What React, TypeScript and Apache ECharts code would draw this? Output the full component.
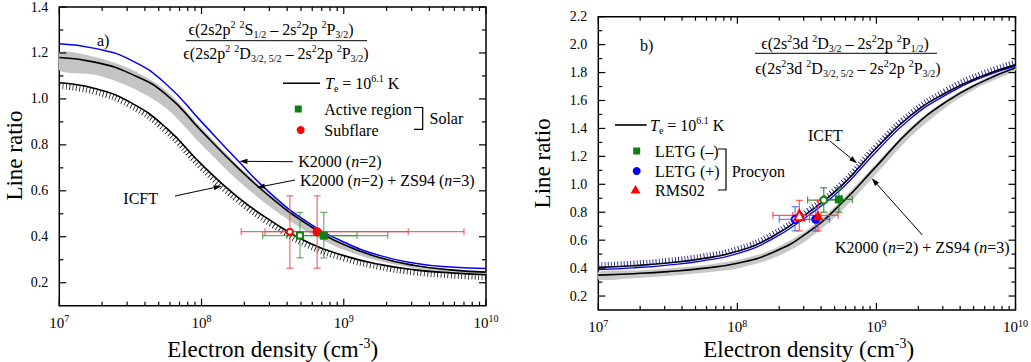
import React, { useEffect, useRef } from "react";
import * as echarts from "echarts";

const SERIF = "'Liberation Serif', 'Times New Roman', 'DejaVu Serif', serif";

// ---------------- data ----------------
// electron density sample points (cm^-3), quarter-decade steps
const density = [1e7, 1.778e7, 3.162e7, 5.623e7, 1e8, 1.778e8, 3.162e8, 5.623e8, 1e9, 1.778e9, 3.162e9, 5.623e9, 1e10];

// panel a) curves
const aK2000 = [1.24, 1.22, 1.17, 1.065, 0.9, 0.735, 0.58, 0.462, 0.377, 0.319, 0.285, 0.268, 0.262];
const aK2000ZS94 = [1.18, 1.16, 1.11, 1.02, 0.86, 0.703, 0.565, 0.452, 0.366, 0.31, 0.275, 0.256, 0.246];
const aBandHigh = [1.203, 1.182, 1.13, 1.037, 0.874, 0.714, 0.573, 0.457, 0.37, 0.313, 0.278, 0.259, 0.249];
const aBandLow = [1.125, 1.105, 1.052, 0.96, 0.8, 0.648, 0.522, 0.42, 0.343, 0.294, 0.263, 0.247, 0.238];
const aICFT = [1.07, 1.045, 0.985, 0.875, 0.715, 0.575, 0.465, 0.375, 0.318, 0.28, 0.256, 0.243, 0.235];
const aICFTHatch = [1.056, 1.031, 0.971, 0.861, 0.701, 0.561, 0.451, 0.362, 0.306, 0.269, 0.245, 0.232, 0.224];

// panel a) observations: [density, ratio, densLow, densHigh, ratioLow, ratioHigh]
const aActiveRegion = [[7.24e8, 0.405, 3.98e8, 2.04e9, 0.308, 0.506]];
const aActiveRegionICFT = [[4.92e8, 0.405, 2.69e8, 1.24e9, 0.308, 0.506]];
const aSubflare = [[6.5e8, 0.422, 2.79e8, 7.0e9, 0.263, 0.578]];
const aSubflareICFT = [[4.18e8, 0.422, 1.9e8, 2.84e9, 0.263, 0.578]];

// panel b) curves
const bICFT = [0.405, 0.417, 0.437, 0.468, 0.52, 0.625, 0.79, 0.99, 1.26, 1.495, 1.655, 1.772, 1.855];
const bICFTHatch = [0.424, 0.436, 0.456, 0.487, 0.539, 0.644, 0.809, 1.009, 1.279, 1.514, 1.674, 1.791, 1.874];
const bK2000 = [0.39, 0.402, 0.422, 0.452, 0.503, 0.607, 0.77, 0.968, 1.235, 1.475, 1.64, 1.762, 1.847];
const bK2000ZS94 = [0.35, 0.36, 0.375, 0.398, 0.435, 0.51, 0.65, 0.865, 1.13, 1.395, 1.59, 1.73, 1.835];
const bBandHigh = [0.373, 0.383, 0.398, 0.421, 0.458, 0.533, 0.673, 0.888, 1.15, 1.412, 1.603, 1.741, 1.843];
const bBandLow = [0.318, 0.328, 0.343, 0.366, 0.398, 0.468, 0.6, 0.81, 1.075, 1.345, 1.552, 1.703, 1.815];

// panel b) observations
const bLETGminus = [[5.37e8, 0.892, 4.2e8, 6.7e8, 0.8, 0.975]];
const bLETGminusICFT = [[4.18e8, 0.887, 3.2e8, 5.5e8, 0.8, 0.975]];
const bLETGplus = [[3.66e8, 0.749, 2.7e8, 4.6e8, 0.666, 0.833]];
const bLETGplusICFT = [[2.6e8, 0.749, 2.0e8, 3.3e8, 0.667, 0.84]];
const bRMS02 = [[3.8e8, 0.778, 2.5e8, 5.3e8, 0.666, 0.885]];
const bRMS02ICFT = [[2.79e8, 0.778, 1.8e8, 4.0e8, 0.666, 0.885]];

// axes
const xMin = 1e7;
const xMax = 1e10;
const xMajorTicks = [1e7, 1e8, 1e9, 1e10];
const xMinorMultipliers = [2, 3, 4, 5, 6, 7, 8, 9];
const aYMin = 0.1, aYMax = 1.4;
const bYMin = 0.1, bYMax = 2.2;
const aYMajor = [0.2, 0.4, 0.6, 0.8, 1.0, 1.2, 1.4];
const aYMinor = [0.3, 0.5, 0.7, 0.9, 1.1, 1.3];
const bYMajor = [0.2, 0.4, 0.6, 0.8, 1.0, 1.2, 1.4, 1.6, 1.8, 2.0, 2.2];
const bYMinor = [0.3, 0.5, 0.7, 0.9, 1.1, 1.3, 1.5, 1.7, 1.9, 2.1];

// ---------------- helpers ----------------
const pairs = (xs: number[], ys: number[]) => xs.map((x, i) => [x, ys[i]]);

function lineSeries(gi: number, ys: number[], color: string, width: number, z = 3, extraStyle: any = {}) {
  return {
    type: "line", xAxisIndex: gi, yAxisIndex: gi, data: pairs(density, ys),
    smooth: 0.5, symbol: "none", showSymbol: false, silent: true, z,
    lineStyle: { color, width, ...extraStyle },
  };
}

function bandSeries(gi: number, hi: number[], lo: number[], color: string) {
  return {
    type: "custom", xAxisIndex: gi, yAxisIndex: gi, data: [[density[0], hi[0]]], z: 1, silent: true, clip: true,
    renderItem: (_p: any, api: any) => {
      const top = density.map((d, i) => api.coord([d, hi[i]]));
      const bot = density.map((d, i) => api.coord([d, lo[i]])).reverse();
      return { type: "polygon", shape: { points: top.concat(bot), smooth: 0.3 }, style: { fill: color } };
    },
  };
}

function errorSeries(gi: number, rows: number[][], color: string) {
  return {
    type: "custom", xAxisIndex: gi, yAxisIndex: gi, data: rows, z: 4, silent: true,
    encode: { x: 0, y: 1 },
    renderItem: (_p: any, api: any) => {
      const x = api.value(0), y = api.value(1);
      const L = api.coord([api.value(2), y]);
      const R = api.coord([api.value(3), y]);
      const B = api.coord([x, api.value(4)]);
      const T = api.coord([x, api.value(5)]);
      const c = 3.5;
      const st = { stroke: color, lineWidth: 1.2 };
      const ln = (x1: number, y1: number, x2: number, y2: number) => ({ type: "line", shape: { x1, y1, x2, y2 }, style: st });
      return {
        type: "group",
        children: [
          ln(L[0], L[1], R[0], R[1]), ln(L[0], L[1] - c, L[0], L[1] + c), ln(R[0], R[1] - c, R[0], R[1] + c),
          ln(T[0], T[1], B[0], B[1]), ln(T[0] - c, T[1], T[0] + c, T[1]), ln(B[0] - c, B[1], B[0] + c, B[1]),
        ],
      };
    },
  };
}

function scatterSeries(gi: number, rows: number[][], symbol: string, size: number, color: string) {
  const empty = symbol.startsWith("empty");
  return {
    type: "scatter", xAxisIndex: gi, yAxisIndex: gi, data: rows.map((r) => [r[0], r[1]]),
    symbol, symbolSize: size, silent: true, z: 5,
    itemStyle: { color, borderColor: color, borderWidth: empty ? 1.3 : 0, opacity: 1 },
  };
}

function tickSeries(gi: number, yMin: number, yMax: number, yMajor: number[], yMinor: number[]) {
  return {
    type: "custom", xAxisIndex: gi, yAxisIndex: gi, data: [[xMin, yMin]], z: 6, silent: true,
    renderItem: (_p: any, api: any) => {
      const ch: any[] = [];
      const st = { stroke: "#000", lineWidth: 1.2 };
      const yB = api.coord([xMin, yMin])[1];
      const yT = api.coord([xMin, yMax])[1];
      const xL = api.coord([xMin, yMin])[0];
      const xR = api.coord([xMax, yMin])[0];
      const addX = (v: number, len: number) => {
        const x = api.coord([v, yMin])[0];
        ch.push({ type: "line", shape: { x1: x, y1: yB, x2: x, y2: yB - len }, style: st });
        ch.push({ type: "line", shape: { x1: x, y1: yT, x2: x, y2: yT + len }, style: st });
      };
      const addY = (v: number, len: number) => {
        const y = api.coord([xMin, v])[1];
        ch.push({ type: "line", shape: { x1: xL, y1: y, x2: xL + len, y2: y }, style: st });
        ch.push({ type: "line", shape: { x1: xR, y1: y, x2: xR - len, y2: y }, style: st });
      };
      xMajorTicks.forEach((d) => addX(d, 7));
      xMajorTicks.slice(0, -1).forEach((d) => xMinorMultipliers.forEach((m) => addX(d * m, 4)));
      yMajor.forEach((v) => addY(v, 7));
      yMinor.forEach((v) => addY(v, 4));
      return { type: "group", children: ch };
    },
  };
}

const baseRich = {
  n: { fontSize: 16, fontFamily: SERIF, lineHeight: 20, verticalAlign: "middle", fill: "#000" },
  i: { fontSize: 16, fontFamily: SERIF, fontStyle: "italic", lineHeight: 20, verticalAlign: "middle", fill: "#000" },
  p: { fontSize: 10, fontFamily: SERIF, lineHeight: 11, verticalAlign: "top", fill: "#000" },
  b: { fontSize: 10, fontFamily: SERIF, lineHeight: 11, verticalAlign: "bottom", fill: "#000" },
  t: { fontSize: 23, fontFamily: SERIF, lineHeight: 26, verticalAlign: "middle", fill: "#000" },
  ts: { fontSize: 14, fontFamily: SERIF, lineHeight: 14, verticalAlign: "top", fill: "#000" },
};

function txt(x: number, y: number, text: string, align = "left", extra: any = {}) {
  return {
    type: "text", x, y, z: 50, silent: true, ...extra,
    style: {
      text, rich: baseRich, fontFamily: SERIF, fontSize: 16, fill: "#000",
      align, verticalAlign: "middle", textAlign: align, textVerticalAlign: "middle",
    },
  };
}

function arrow(x1: number, y1: number, x2: number, y2: number) {
  const dx = x2 - x1, dy = y2 - y1;
  const L = Math.hypot(dx, dy);
  const ux = dx / L, uy = dy / L;
  const head = 8, w = 2.6;
  const bx = x2 - ux * head, by = y2 - uy * head;
  return [
    { type: "line", z: 50, shape: { x1, y1, x2: bx, y2: by }, style: { stroke: "#000", lineWidth: 1 } },
    { type: "polygon", z: 50, shape: { points: [[x2, y2], [bx - uy * w, by + ux * w], [bx + uy * w, by - ux * w]] }, style: { fill: "#000" } },
  ];
}

const seg = (x1: number, y1: number, x2: number, y2: number, lw = 1) => ({
  type: "line", z: 50, shape: { x1, y1, x2, y2 }, style: { stroke: "#000", lineWidth: lw },
});

const bracket = (pts: number[][]) => ({ type: "polyline", z: 50, shape: { points: pts }, style: { stroke: "#000", lineWidth: 1.2, fill: "none" } });

const aNum = "{n|ϵ(2s2p}{p|2}{n| }{p|2}{n|S}{b|1/2}{n| – 2s}{p|2}{n|2p }{p|2}{n|P}{b|3/2}{n|)}";
const aDen = "{n|ϵ(2s2p}{p|2}{n| }{p|2}{n|D}{b|3/2, 5/2}{n| – 2s}{p|2}{n|2p }{p|2}{n|P}{b|3/2}{n|)}";
const bNum = "{n|ϵ(2s}{p|2}{n|3d }{p|2}{n|D}{b|3/2}{n| – 2s}{p|2}{n|2p }{p|2}{n|P}{b|1/2}{n|)}";
const bDen = "{n|ϵ(2s}{p|2}{n|3d }{p|2}{n|D}{b|3/2, 5/2}{n| – 2s}{p|2}{n|2p }{p|2}{n|P}{b|3/2}{n|)}";
const teLabel = "{i|T}{b|e}{n| = 10}{p|6.1}{n| K}";
const xTitle = "{t|Electron density (cm}{ts|-3}{t|)}";
const yTitle = "{t|Line ratio}";

function xAxisOpt(gi: number) {
  return {
    type: "log", logBase: 10, gridIndex: gi, min: xMin, max: xMax,
    axisLine: { show: false }, axisTick: { show: false }, splitLine: { show: false }, minorTick: { show: false },
    axisLabel: {
      margin: 8, color: "#000",
      formatter: (v: number) => `{b|10}{s|${Math.round(Math.log10(v))}}`,
      rich: {
        b: { fontSize: 15, fontFamily: SERIF, color: "#000", lineHeight: 18, verticalAlign: "middle" },
        s: { fontSize: 10, fontFamily: SERIF, color: "#000", lineHeight: 10, verticalAlign: "top" },
      },
    },
  };
}

function yAxisOpt(gi: number, min: number, max: number) {
  return {
    type: "value", gridIndex: gi, min, max, interval: 0.1,
    axisLine: { show: false }, axisTick: { show: false }, splitLine: { show: false },
    axisLabel: {
      margin: 11, color: "#000", fontSize: 14, fontFamily: SERIF,
      formatter: (v: number) => {
        const k = Math.round(v * 10);
        return k % 2 === 0 ? (k / 10).toFixed(1) : "";
      },
    },
  };
}

export default function App() {
  const ref = useRef<HTMLDivElement>(null);
  useEffect(() => {
    if (!ref.current) return;
    const chart = echarts.init(ref.current, undefined, { renderer: "svg" });
    const grid = [
      { left: 59.3, top: 5.8, width: 426.7, height: 299.9, show: true, borderColor: "#000", borderWidth: 1.5, backgroundColor: "transparent" },
      { left: 598.3, top: 16.7, width: 420.7, height: 293.3, show: true, borderColor: "#000", borderWidth: 1.5, backgroundColor: "transparent" },
    ];
    const option: any = {
      animation: false,
      backgroundColor: "#fff",
      grid,
      xAxis: [xAxisOpt(0), xAxisOpt(1)],
      yAxis: [yAxisOpt(0, aYMin, aYMax), yAxisOpt(1, bYMin, bYMax)],
      series: [
        // panel a
        bandSeries(0, aBandHigh, aBandLow, "#c4c4c4"),
        lineSeries(0, aICFTHatch, "#111", 6, 2, { type: [0.8, 2.6], cap: "butt" }),
        lineSeries(0, aICFT, "#000", 1.6, 3),
        lineSeries(0, aK2000ZS94, "#000", 1.6, 3),
        lineSeries(0, aK2000, "#0000ff", 1.5, 3),
        errorSeries(0, aSubflareICFT, "rgba(240,70,70,0.8)"),
        errorSeries(0, aSubflare, "rgba(240,70,70,0.8)"),
        errorSeries(0, aActiveRegionICFT, "rgba(40,140,40,0.7)"),
        errorSeries(0, aActiveRegion, "rgba(40,140,40,0.7)"),
        scatterSeries(0, aSubflareICFT, "emptyCircle", 6, "#ff0000"),
        scatterSeries(0, aActiveRegionICFT, "emptyRect", 6, "#108010"),
        scatterSeries(0, aSubflare, "circle", 9, "#ff0000"),
        scatterSeries(0, aActiveRegion, "rect", 8, "#108010"),
        tickSeries(0, aYMin, aYMax, aYMajor, aYMinor),
        // panel b
        bandSeries(1, bBandHigh, bBandLow, "#c8c8c8"),
        lineSeries(1, bICFTHatch, "#20209a", 5, 2, { type: [0.9, 2.3], cap: "butt" }),
        lineSeries(1, bK2000ZS94, "#000", 1.6, 3),
        lineSeries(1, bK2000, "#0000ff", 1.3, 3),
        lineSeries(1, bICFT, "#000", 1.6, 3),
        errorSeries(1, bLETGminusICFT, "rgba(30,130,30,0.85)"),
        errorSeries(1, bLETGminus, "rgba(30,130,30,0.85)"),
        errorSeries(1, bLETGplusICFT, "rgba(60,90,255,0.8)"),
        errorSeries(1, bLETGplus, "rgba(60,90,255,0.8)"),
        errorSeries(1, bRMS02ICFT, "rgba(255,60,60,0.85)"),
        errorSeries(1, bRMS02, "rgba(255,60,60,0.85)"),
        scatterSeries(1, bLETGminusICFT, "emptyCircle", 7, "#108010"),
        scatterSeries(1, bLETGplusICFT, "emptyCircle", 7, "#0000ff"),
        scatterSeries(1, bRMS02ICFT, "emptyTriangle", 10, "#ff0000"),
        scatterSeries(1, bLETGminus, "rect", 8, "#108010"),
        scatterSeries(1, bLETGplus, "circle", 9, "#0000ff"),
        scatterSeries(1, bRMS02, "triangle", 10, "#ff0000"),
        tickSeries(1, bYMin, bYMax, bYMajor, bYMinor),
      ],
      graphic: [
        // ---- panel a annotations ----
        txt(97, 40, "{n|a)}"),
        txt(271, 29, aNum, "center"),
        seg(186, 40.7, 367, 40.7, 1),
        txt(276, 53.5, aDen, "center"),
        seg(283, 83.3, 320, 83.3, 1.6),
        txt(325, 83.3, teLabel),
        { type: "rect", z: 50, shape: { x: 294.8, y: 105.5, width: 7, height: 7 }, style: { fill: "#108010" } },
        txt(324.3, 109.5, "{n|Active region}"),
        { type: "circle", z: 50, shape: { cx: 300.7, cy: 130, r: 4 }, style: { fill: "#ff0000" } },
        txt(324.3, 130, "{n|Subflare}"),
        bracket([[414, 107.5], [422.7, 107.5], [422.7, 129.3], [414, 129.3]]),
        txt(429.5, 118.7, "{n|Solar}"),
        txt(298.3, 161.7, "{n|K2000 (}{i|n}{n|=2)}"),
        ...arrow(293, 161.7, 239.5, 161.3),
        txt(300, 180, "{n|K2000 (}{i|n}{n|=2) + ZS94 (}{i|n}{n|=3)}"),
        ...arrow(295, 180, 257, 187.5),
        txt(123.3, 198.3, "{n|ICFT}"),
        ...arrow(175, 196, 221.7, 186),
        txt(272.6, 349, xTitle, "center"),
        txt(14, 155.6, yTitle, "center", { rotation: Math.PI / 2 }),
        // ---- panel b annotations ----
        txt(640, 45, "{n|b)}"),
        txt(845, 43.3, bNum, "center"),
        seg(755, 53.3, 937, 53.3, 1),
        txt(848, 68.3, bDen, "center"),
        seg(615, 125, 646.7, 125, 1.6),
        txt(650, 125, teLabel),
        { type: "rect", z: 50, shape: { x: 633.2, y: 147.5, width: 7, height: 7 }, style: { fill: "#108010" } },
        txt(655, 151, "{n|LETG (–)}"),
        { type: "circle", z: 50, shape: { cx: 636.7, cy: 171, r: 4 }, style: { fill: "#0000ff" } },
        txt(655, 171, "{n|LETG (+)}"),
        { type: "polygon", z: 50, shape: { points: [[635.5, 185], [640.5, 193.5], [630.5, 193.5]] }, style: { fill: "#ff0000" } },
        txt(655, 190, "{n|RMS02}"),
        bracket([[718, 149], [726, 149], [726, 190], [718, 190]]),
        txt(731.7, 171, "{n|Procyon}"),
        txt(808, 135, "{n|ICFT}"),
        ...arrow(830, 141, 857, 163.3),
        txt(835, 247.3, "{n|K2000 (}{i|n}{n|=2) + ZS94 (}{i|n}{n|=3)}"),
        ...arrow(922.3, 235, 871.7, 178.3),
        txt(808.7, 349, xTitle, "center"),
        txt(542, 163.4, yTitle, "center", { rotation: Math.PI / 2 }),
      ],
    };
    chart.setOption(option);
    return () => chart.dispose();
  }, []);
  return <div ref={ref} style={{ position: "absolute", left: 0, top: 0, width: 1031, height: 362 }} />;
}
